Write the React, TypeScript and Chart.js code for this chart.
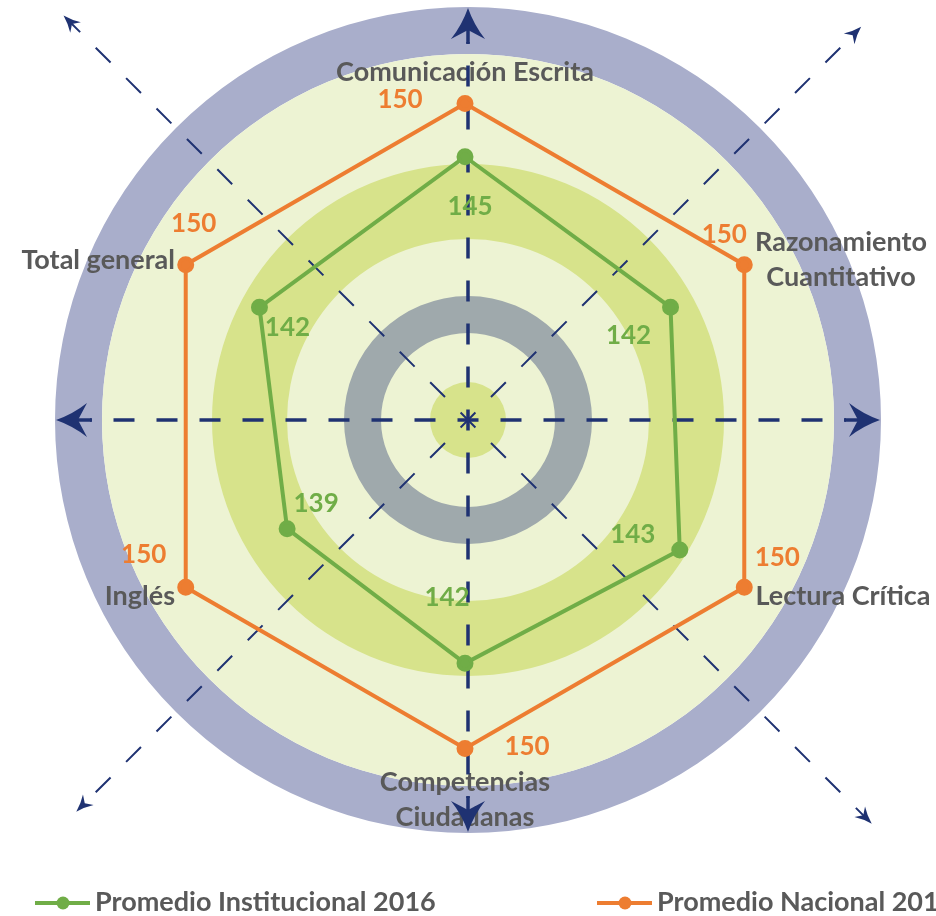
import { useEffect, useRef } from "react";
import { Chart, registerables } from "chart.js";

Chart.register(...registerables);

// ---------- data ----------
const categories: string[][] = [
  ["Comunicación Escrita"],
  ["Razonamiento", "Cuantitativo"],
  ["Lectura Crítica"],
  ["Competencias", "Ciudadanas"],
  ["Inglés"],
  ["Total general"],
];
const institucional2016 = [145, 142, 143, 142, 139, 142];
const nacional2016 = [150, 150, 150, 150, 150, 150];
const seriesNames = ["Promedio Institucional 2016", "Promedio Nacional 2016"];
const scaleMin = 119.7;
const scaleMax = 158.6;

// ---------- style ----------
const GREEN = "#70AD47";
const ORANGE = "#ED7D31";
const TEXT = "#595959";
const NAVY = "#1F3272";
const FONT = "Lato, 'Open Sans', sans-serif";
const DECOR_SHIFT = { x: 3, y: -6 }; // decoration centre relative to radar centre

// label layout (offsets from decoration centre, px)
const catLayout = [
  { dx: -3, dy: -348, align: "center" },
  { dx: 373, dy: -160, align: "center" },
  { dx: 375, dy: 176, align: "center" },
  { dx: -3, dy: 380, align: "center" },
  { dx: -293, dy: 176, align: "right" },
  { dx: -293, dy: -160, align: "right" },
];
// value label offsets from their points
const greenOffsets = [
  [5, 50], [-42, 28], [-47, -15], [-18, -66], [29, -25], [28, 20],
];
const orangeOffsets = [
  [-65, -4], [-20, -30], [33, -30], [62, -2], [-42, -33], [8, -41],
];

function arrowHead(
  ctx: CanvasRenderingContext2D,
  tx: number,
  ty: number,
  ang: number,
  len: number,
  halfW: number,
  notch: number
) {
  const ux = Math.cos(ang), uy = Math.sin(ang);
  const px = -uy, py = ux;
  const bx = tx - ux * len, by = ty - uy * len;
  ctx.beginPath();
  ctx.moveTo(tx, ty);
  ctx.quadraticCurveTo(
    tx - ux * len * 0.55 + px * halfW * 0.35,
    ty - uy * len * 0.55 + py * halfW * 0.35,
    bx + px * halfW,
    by + py * halfW
  );
  ctx.lineTo(tx - ux * (len - notch), ty - uy * (len - notch));
  ctx.lineTo(bx - px * halfW, by - py * halfW);
  ctx.quadraticCurveTo(
    tx - ux * len * 0.55 - px * halfW * 0.35,
    ty - uy * len * 0.55 - py * halfW * 0.35,
    tx,
    ty
  );
  ctx.closePath();
  ctx.fill();
}

const backgroundPlugin = {
  id: "bgDecor",
  beforeDatasetsDraw(chart: any) {
    const ctx: CanvasRenderingContext2D = chart.ctx;
    const s = chart.scales.r;
    const cx = s.xCenter + DECOR_SHIFT.x, cy = s.yCenter + DECOR_SHIFT.y;
    const k = s.drawingArea / 414;
    ctx.save();
    const ring = (outer: number, inner: number, color: string) => {
      ctx.beginPath();
      ctx.arc(cx, cy, outer * k, 0, Math.PI * 2);
      if (inner > 0) ctx.arc(cx, cy, inner * k, 0, Math.PI * 2, true);
      ctx.fillStyle = color;
      ctx.fill("evenodd");
    };
    ring(413, 366, "#A9AECB");
    ring(366, 0, "#EDF3D3");
    ring(256, 181, "#D7E38B");
    ring(124, 87, "#9FA9AC");
    ring(38, 0, "#D7E38B");

    // category labels
    ctx.fillStyle = TEXT;
    ctx.font = `bold 27px ${FONT}`;
    ctx.textBaseline = "middle";
    categories.forEach((lines, i) => {
      const L = catLayout[i];
      ctx.textAlign = L.align as CanvasTextAlign;
      const lh = 35;
      lines.forEach((t, j) => {
        const y = cy + L.dy + (j - (lines.length - 1) / 2) * lh;
        ctx.fillText(t, cx + L.dx, y);
      });
    });

    // diagonal dashed arrows
    ctx.strokeStyle = NAVY;
    ctx.fillStyle = NAVY;
    const diag = [
      { a: -Math.PI * 3 / 4, len: 572 },
      { a: -Math.PI / 4, len: 556 },
      { a: Math.PI * 3 / 4, len: 554 },
      { a: Math.PI / 4, len: 571 },
    ];
    ctx.lineWidth = 2;
    ctx.setLineDash([21, 22]);
    ctx.lineDashOffset = 10.5;
    diag.forEach((d) => {
      const ex = cx + Math.cos(d.a) * (d.len - 8) * k;
      const ey = cy + Math.sin(d.a) * (d.len - 8) * k;
      ctx.beginPath();
      ctx.moveTo(cx, cy);
      ctx.lineTo(ex, ey);
      ctx.stroke();
    });
    ctx.setLineDash([]);
    diag.forEach((d) => {
      const tx = cx + Math.cos(d.a) * d.len * k;
      const ty = cy + Math.sin(d.a) * d.len * k;
      arrowHead(ctx, tx, ty, d.a, 17, 7.5, 5);
    });

    // main axes
    ctx.lineWidth = 3.5;
    ctx.setLineDash([21, 22]);
    ctx.lineDashOffset = 10.5;
    const main = [-Math.PI / 2, 0, Math.PI / 2, Math.PI];
    main.forEach((a) => {
      ctx.beginPath();
      ctx.moveTo(cx, cy);
      ctx.lineTo(cx + Math.cos(a) * 378 * k, cy + Math.sin(a) * 378 * k);
      ctx.stroke();
    });
    ctx.setLineDash([]);
    main.forEach((a) => {
      ctx.beginPath();
      ctx.moveTo(cx + Math.cos(a) * 376 * k, cy + Math.sin(a) * 376 * k);
      ctx.lineTo(cx + Math.cos(a) * 392 * k, cy + Math.sin(a) * 392 * k);
      ctx.stroke();
      arrowHead(ctx, cx + Math.cos(a) * 412 * k, cy + Math.sin(a) * 412 * k, a, 31, 17, 9);
    });
    ctx.restore();
  },
  afterDatasetsDraw(chart: any) {
    const ctx: CanvasRenderingContext2D = chart.ctx;
    ctx.save();
    ctx.font = `bold 26px ${FONT}`;
    ctx.textAlign = "center";
    ctx.textBaseline = "middle";
    const sets = [
      { idx: 0, color: GREEN, off: greenOffsets },
      { idx: 1, color: ORANGE, off: orangeOffsets },
    ];
    sets.forEach((st) => {
      const meta = chart.getDatasetMeta(st.idx);
      const vals = chart.data.datasets[st.idx].data as number[];
      ctx.fillStyle = st.color;
      meta.data.forEach((p: any, i: number) => {
        ctx.fillText(String(vals[i]), p.x + st.off[i][0], p.y + st.off[i][1]);
      });
    });
    ctx.restore();
  },
  afterDraw(chart: any) {
    const ctx: CanvasRenderingContext2D = chart.ctx;
    ctx.save();
    const y = 903;
    const items = [
      { x0: 35, color: GREEN, text: seriesNames[0] },
      { x0: 597, color: ORANGE, text: seriesNames[1] },
    ];
    items.forEach((it) => {
      ctx.strokeStyle = it.color;
      ctx.fillStyle = it.color;
      ctx.lineWidth = 4;
      ctx.beginPath();
      ctx.moveTo(it.x0, y);
      ctx.lineTo(it.x0 + 55, y);
      ctx.stroke();
      ctx.beginPath();
      ctx.arc(it.x0 + 28, y, 6.5, 0, Math.PI * 2);
      ctx.fill();
      ctx.fillStyle = TEXT;
      ctx.font = `bold 27px ${FONT}`;
      ctx.textAlign = "left";
      ctx.textBaseline = "middle";
      ctx.fillText(it.text, it.x0 + 60, y - 1);
    });
    ctx.restore();
  },
};

export default function App() {
  const ref = useRef<HTMLCanvasElement | null>(null);
  useEffect(() => {
    if (!ref.current) return;
    const chart = new Chart(ref.current, {
      type: "radar",
      data: {
        labels: categories,
        datasets: [
          {
            label: seriesNames[0],
            data: institucional2016,
            borderColor: GREEN,
            backgroundColor: GREEN,
            pointBackgroundColor: GREEN,
            pointBorderColor: GREEN,
            borderWidth: 4,
            pointRadius: 6.5,
            fill: false,
          },
          {
            label: seriesNames[1],
            data: nacional2016,
            borderColor: ORANGE,
            backgroundColor: ORANGE,
            pointBackgroundColor: ORANGE,
            pointBorderColor: ORANGE,
            borderWidth: 4,
            pointRadius: 6.5,
            fill: false,
          },
        ],
      },
      options: {
        responsive: false,
        animation: false,
        layout: { padding: { top: 12, bottom: 76, left: 20, right: 26 } },
        plugins: { legend: { display: false }, tooltip: { enabled: false } },
        scales: {
          r: {
            min: scaleMin,
            max: scaleMax,
            grid: { display: false },
            angleLines: { display: false },
            ticks: { display: false },
            pointLabels: { display: false },
          },
        },
      },
      plugins: [backgroundPlugin],
    });
    return () => chart.destroy();
  }, []);
  return (
    <div style={{ position: "absolute", left: 0, top: 0, width: 936, height: 916, background: "#fff" }}>
      <canvas ref={ref} width={936} height={916} style={{ display: "block" }} />
    </div>
  );
}
